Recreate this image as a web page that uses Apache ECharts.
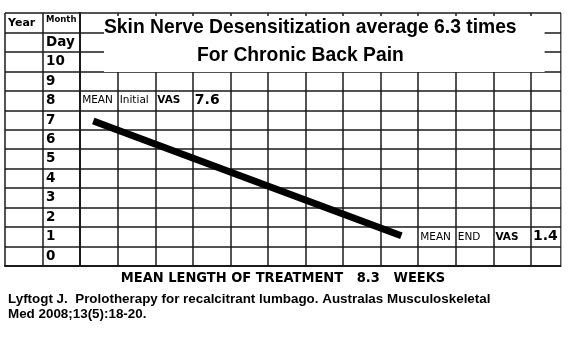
<!DOCTYPE html>
<html><head><meta charset="utf-8">
<script src="https://cdn.jsdelivr.net/npm/echarts@6/dist/echarts.min.js"></script>
<style>html,body{margin:0;padding:0;background:#fff}#c{width:573px;height:356px}</style>
</head><body><div id="c"></div>
<script>
// Data
const rowLabels = ['0','1','2','3','4','5','6','7','8','9','10','Day','Month'];
const cornerLabel = 'Year';
const vasWeeks = [0.35, 8.55];       // mean weeks of treatment (line start/end)
const vasValues = [7.45, 1.55];      // plotted VAS level
const startNotes = ['MEAN', 'Initial', 'VAS', '7.6'];
const startNoteCol = 0, startNoteRow = 8;
const endNotes = ['MEAN', 'END', 'VAS', '1.4'];
const endNoteCol = 9, endNoteRow = 1;
const titleLine1 = 'Skin Nerve Desensitization average 6.3 times';
const titleLine2 = 'For Chronic Back Pain';
const xName = 'MEAN LENGTH OF TREATMENT   8.3   WEEKS';
const citation = 'Lyftogt J.  Prolotherapy for recalcitrant lumbago. Australas Musculoskeletal\nMed 2008;13(5):18-20.';

const ink = '#1a1a1a';
const noteStyle = (t, i) => {
  const big = i === 3, bold = i >= 2;
  return {
    fontFamily: 'DejaVu Sans', fontSize: big ? 14 : 10.5,
    fontWeight: bold ? 'bold' : 'normal', color: '#000', opacity: 1
  };
};
const notesData = [];
startNotes.forEach((t, i) => notesData.push({value: [startNoteCol + i, startNoteRow + 0.5], name: t, label: noteStyle(t, i)}));
endNotes.forEach((t, i) => notesData.push({value: [endNoteCol + i, endNoteRow + 0.5], name: t, label: noteStyle(t, i)}));

const chart = echarts.init(document.getElementById('c'), null, {renderer: 'canvas'});
chart.setOption({
  animation: false,
  backgroundColor: '#fff',
  title: [
    {text: titleLine1, left: 104, top: 16, backgroundColor: '#fff', padding: [1, 28, 33, 0],
     textStyle: {fontFamily: 'Liberation Sans', fontWeight: 'bold', fontSize: 19.3, lineHeight: 22, color: '#000'}},
    {text: titleLine2, left: 197, top: 45, padding: 0,
     textStyle: {fontFamily: 'Liberation Sans', fontWeight: 'bold', fontSize: 19.3, lineHeight: 22, color: '#000'}},
    {text: citation, left: 8, top: 292, padding: 0,
     textStyle: {fontFamily: 'Liberation Sans', fontWeight: 'bold', fontSize: 13.4, lineHeight: 15, color: '#000'}}
  ],
  grid: {left: 5, right: 12, top: 13, bottom: 90, containLabel: false},
  xAxis: {
    type: 'value', min: -2, max: 12.8, interval: 1,
    axisLine: {show: true, onZero: false, lineStyle: {color: ink, width: 2}},
    axisTick: {show: false}, axisLabel: {show: false},
    splitLine: {show: true, lineStyle: {color: ink, width: 1.5}},
    name: xName, nameLocation: 'middle', nameGap: 5,
    nameTextStyle: {fontFamily: 'DejaVu Sans Condensed', fontWeight: 'bold', fontSize: 14.5, color: '#000', verticalAlign: 'top'}
  },
  yAxis: [
    {type: 'value', min: 0, max: 13, interval: 1,
     axisLine: {show: true, lineStyle: {color: ink, width: 2}},
     axisTick: {show: false}, axisLabel: {show: false},
     splitLine: {show: true, lineStyle: {color: ink, width: 1.5}}},
    {type: 'category', data: rowLabels, boundaryGap: true, position: 'left', offset: -38,
     axisLine: {show: false}, axisTick: {show: false}, splitLine: {show: false},
     axisLabel: {inside: true, margin: 3, color: '#000', fontFamily: 'DejaVu Sans', fontWeight: 'bold',
       formatter: v => v === 'Month' ? '{m|' + v + '}' : v,
       fontSize: 13.5,
       rich: {m: {fontFamily: 'DejaVu Sans', fontWeight: 'bold', fontSize: 8.5, padding: [0, 0, 6, 0]}}}},
    {type: 'category', data: rowLabels.map((v, i) => i === rowLabels.length - 1 ? cornerLabel : ''),
     boundaryGap: true, position: 'left', offset: 0,
     axisLine: {show: false}, axisTick: {show: false}, splitLine: {show: false},
     axisLabel: {inside: true, margin: 3, color: '#000', fontFamily: 'DejaVu Sans', fontWeight: 'bold', fontSize: 11}}
  ],
  graphic: [{type: 'rect', shape: {x: 561.5, y: 0, width: 20, height: 280}, style: {fill: '#fff'}, z: 100}],
  series: [
    {type: 'line', data: vasWeeks.map((w, i) => [w, vasValues[i]]), yAxisIndex: 0,
     symbol: 'none', lineStyle: {color: '#000', width: 7, cap: 'butt'}, z: 5},
    {type: 'scatter', data: notesData, yAxisIndex: 0, symbolSize: 0, z: 6,
     itemStyle: {opacity: 1, color: '#000'},
     label: {show: true, position: 'right', distance: 2, formatter: p => p.name}}
  ]
});
</script></body></html>
